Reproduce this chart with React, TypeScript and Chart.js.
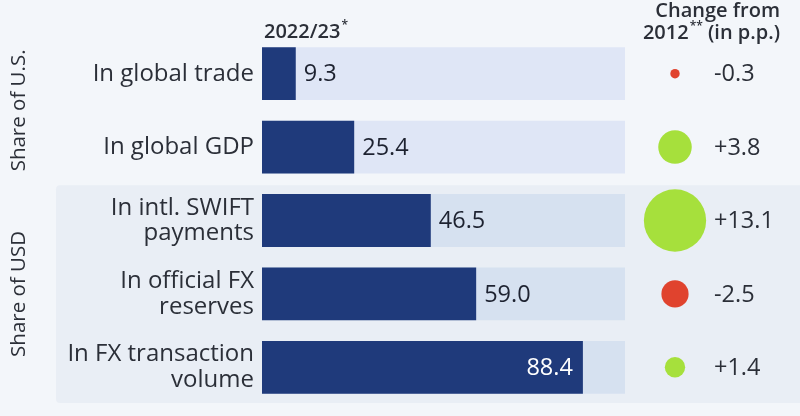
import React, { useEffect, useRef } from "react";
import { Chart, registerables } from "chart.js";

Chart.register(...registerables);

const categories: string[][] = [
  ["In global trade"],
  ["In global GDP"],
  ["In intl. SWIFT", "payments"],
  ["In official FX", "reserves"],
  ["In FX transaction", "volume"],
];
const shares2022: number[] = [9.3, 25.4, 46.5, 59.0, 88.4];
const changeFrom2012: number[] = [-0.3, 3.8, 13.1, -2.5, 1.4];
const trackMax: number[] = [100, 100, 100, 100, 100];
const groupLabels: string[] = ["Share of U.S.", "Share of USD"];
const groupSizes: number[] = [2, 3];
const headerLeft = "2022/23";
const headerRight: string[] = ["Change from", "2012"];

const FONT = "'Open Sans', 'Noto Sans', sans-serif";
const PAGE_BG = "#f3f6fa";
const PANEL_BG = "#e9eef5";
const BAR = "#1f3a7b";
const TRACK_TOP = "#dfe6f6";
const TRACK_PANEL = "#d6e1f0";
const GREEN = "#a6e03c";
const RED = "#e0432e";
const TEXT = "#2b2f38";

const fmtChange = (v: number) => (v > 0 ? "+" : "") + v.toFixed(1);

const decorPlugin = {
  id: "decor",
  beforeDraw(chart: any) {
    const { ctx, scales, chartArea } = chart;
    const y = scales.y;
    const step = y.getPixelForValue(1) - y.getPixelForValue(0);
    ctx.save();
    ctx.fillStyle = PAGE_BG;
    ctx.fillRect(0, 0, chart.width, chart.height);
    // panel behind second group
    const top = y.getPixelForValue(groupSizes[0]) - step / 2 + 1.5;
    const bottom = chartArea.bottom - 1;
    ctx.fillStyle = PANEL_BG;
    ctx.beginPath();
    (ctx as any).roundRect(56, top, chart.width - 56, bottom - top, [4, 0, 0, 4]);
    ctx.fill();
    // group labels
    ctx.fillStyle = TEXT;
    ctx.font = `400 20.5px ${FONT}`;
    ctx.textAlign = "center";
    ctx.textBaseline = "middle";
    let start = 0;
    groupLabels.forEach((g, gi) => {
      const n = groupSizes[gi];
      const c0 = y.getPixelForValue(start) - step / 2;
      const c1 = y.getPixelForValue(start + n - 1) + step / 2;
      ctx.save();
      ctx.translate(19, (c0 + c1) / 2);
      ctx.rotate(-Math.PI / 2);
      ctx.fillText(g, 0, 0);
      ctx.restore();
      start += n;
    });
    // headers
    ctx.textBaseline = "alphabetic";
    ctx.textAlign = "left";
    ctx.font = `600 20px ${FONT}`;
    ctx.fillText(headerLeft, chartArea.left + 2, 38);
    const w = ctx.measureText(headerLeft).width;
    ctx.font = `600 12px ${FONT}`;
    ctx.fillText("*", chartArea.left + 2 + w + 1, 29);

    ctx.textAlign = "right";
    ctx.font = `600 20px ${FONT}`;
    const rx = 780;
    ctx.fillText(headerRight[0], rx, 17);
    const tail = " (in p.p.)";
    ctx.fillText(tail, rx, 39);
    const tw = ctx.measureText(tail).width;
    ctx.font = `600 12px ${FONT}`;
    const sw = ctx.measureText("**").width;
    ctx.fillText("**", rx - tw, 30);
    ctx.font = `600 20px ${FONT}`;
    ctx.fillText(headerRight[1], rx - tw - sw - 1, 39);
    ctx.restore();
  },
  afterDatasetsDraw(chart: any) {
    const { ctx, scales } = chart;
    const y = scales.y;
    const x = scales.x;
    ctx.save();
    // value labels
    ctx.font = `500 23.5px ${FONT}`;
    ctx.textBaseline = "middle";
    shares2022.forEach((v, i) => {
      const py = y.getPixelForValue(i);
      const px = x.getPixelForValue(v);
      if (v > 80) {
        ctx.fillStyle = "#ffffff";
        ctx.textAlign = "right";
        ctx.fillText(v.toFixed(1), px - 10, py + 1);
      } else {
        ctx.fillStyle = "#1d2230";
        ctx.textAlign = "left";
        ctx.fillText(v.toFixed(1), px + 8, py + 1);
      }
    });
    // change circles
    const cx = 675;
    changeFrom2012.forEach((v, i) => {
      const py = y.getPixelForValue(i);
      const r = 8.6 * Math.sqrt(Math.abs(v));
      ctx.fillStyle = v >= 0 ? GREEN : RED;
      ctx.beginPath();
      ctx.arc(cx, py, r, 0, Math.PI * 2);
      ctx.fill();
      ctx.fillStyle = TEXT;
      ctx.textAlign = "left";
      ctx.font = `400 23.5px ${FONT}`;
      ctx.fillText(fmtChange(v), 714, py + 1);
    });
    ctx.restore();
  },
};

export default function App() {
  const ref = useRef<HTMLCanvasElement>(null);
  useEffect(() => {
    document.body.style.margin = "0";
    const canvas = ref.current!;
    const chart = new Chart(canvas, {
      type: "bar",
      data: {
        labels: categories,
        datasets: [
          {
            label: "2022/23",
            data: shares2022,
            backgroundColor: BAR,
            borderWidth: 0,
            grouped: false,
            order: 0,
          } as any,
          {
            label: "track",
            data: trackMax,
            backgroundColor: categories.map((_, i) => (i < groupSizes[0] ? TRACK_TOP : TRACK_PANEL)),
            borderWidth: 0,
            grouped: false,
            order: 1,
          } as any,
        ],
      },
      options: {
        indexAxis: "y",
        animation: false,
        responsive: false,
        maintainAspectRatio: false,
        layout: { padding: { left: 0, right: 175, top: 37, bottom: 12 } },
        datasets: { bar: { categoryPercentage: 1, barPercentage: 0.72 } },
        plugins: { legend: { display: false }, tooltip: { enabled: false } },
        scales: {
          x: { min: 0, max: 100, display: false },
          y: {
            grid: { display: false, drawTicks: false },
            border: { display: false },
            ticks: {
              color: TEXT,
              padding: 8,
              font: { family: FONT, size: 24, lineHeight: 1.07 },
            },
            afterFit: (s: any) => {
              s.width = 262;
              s.paddingTop = 0;
              s.paddingBottom = 0;
            },
          },
        },
      },
      plugins: [decorPlugin],
    });
    return () => chart.destroy();
  }, []);
  return <canvas ref={ref} width={800} height={416} style={{ display: "block" }} />;
}
